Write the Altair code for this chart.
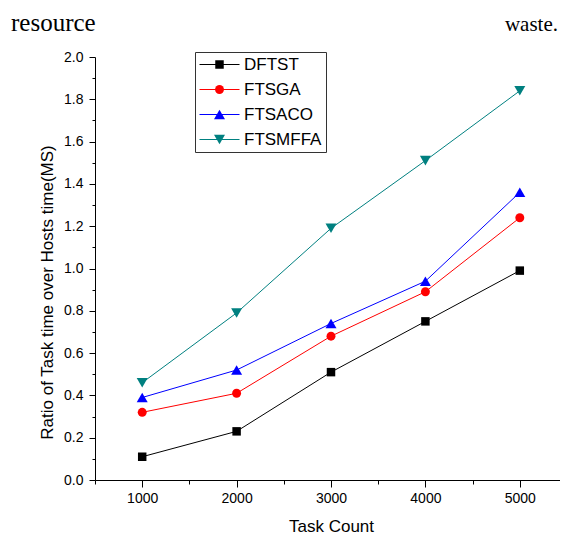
import altair as alt
import pandas as pd

# ---- data ----
task_counts = [1000, 2000, 3000, 4000, 5000]
series_names = ["DFTST", "FTSGA", "FTSACO", "FTSMFFA"]
dftst = [0.11, 0.23, 0.51, 0.75, 0.99]
ftsga = [0.32, 0.41, 0.68, 0.89, 1.24]
ftsaco = [0.39, 0.52, 0.74, 0.94, 1.36]
ftsmffa = [0.46, 0.79, 1.19, 1.51, 1.84]
series_colors = ["#000000", "#ff0000", "#0000ff", "#008080"]
series_shapes = ["square", "circle", "triangle-up", "triangle-down"]
marker_sizes = [72, 80, 121, 121]
x_tick_values = [500, 1000, 1500, 2000, 2500, 3000, 3500, 4000, 4500, 5000, 5500]
y_tick_values = [0.0, 0.1, 0.2, 0.3, 0.4, 0.5, 0.6, 0.7, 0.8, 0.9, 1.0,
                 1.1, 1.2, 1.3, 1.4, 1.5, 1.6, 1.7, 1.8, 1.9, 2.0]
x_title = "Task Count"
y_title = "Ratio of Task time over Hosts time(MS)"
header_left = ["resource"]
header_right = ["waste."]

rows = []
for name, vals in zip(series_names, [dftst, ftsga, ftsaco, ftsmffa]):
    for t, v in zip(task_counts, vals):
        rows.append({"series": name, "tasks": t, "ratio": v})
df = pd.DataFrame(rows)

FONT = "Liberation Sans"

x_enc = alt.X(
    "tasks:Q",
    title=x_title,
    scale=alt.Scale(domain=[500, 5500], nice=False, zero=False),
    axis=alt.Axis(
        values=x_tick_values,
        format="d",
        labelExpr="datum.value % 1000 === 0 && datum.value <= 5000 ? datum.label : ''",
        tickSize={"condition": {"test": "datum.value % 1000 === 0", "value": 7}, "value": 4},
        labelPadding=4,
        labelFontSize=14,
        titleFontSize=17,
        titleX=236,
        titleY=51,
        titleBaseline="alphabetic",
        labelOverlap=False,
        labelFlush=False,
        grid=False,
    ),
)

y_enc = alt.Y(
    "ratio:Q",
    title=y_title,
    scale=alt.Scale(domain=[0, 2], nice=False, zero=True),
    axis=alt.Axis(
        values=y_tick_values,
        labelExpr="round(datum.value * 10) % 2 === 0 ? format(datum.value, '.1f') : ''",
        tickSize={"condition": {"test": "round(datum.value * 10) % 2 === 0", "value": 6}, "value": 3},
        labelPadding=6,
        labelFontSize=14,
        titleFontSize=17,
        titleX=-48,
        titleY=235,
        titleAngle=270,
        titleBaseline="middle",
        titleAlign="center",
        labelOverlap=False,
        labelFlush=False,
        grid=False,
    ),
)

legend_common = dict(
    orient="none",
    legendX=100,
    legendY=-5,
    title=None,
    labelFont=FONT,
    labelFontSize=17,
    labelColor="black",
    labelOffset=16,
    labelLimit=300,
    padding=4,
    rowPadding=7,
    symbolOffset=12,
)

# legend of the connecting lines (carries the labels and the box)
legend_lines = alt.Legend(
    values=series_names,
    symbolType="M-4,0H4",
    symbolSize=100,
    symbolStrokeWidth=1,
    strokeColor="#333333",
    **legend_common,
)

# legend of the markers, drawn on top of the line legend
legend_points = alt.Legend(
    symbolStrokeWidth=0,
    labelExpr="''",
    **legend_common,
)

lines = alt.Chart(df).mark_line(strokeWidth=1).encode(
    x=x_enc,
    y=y_enc,
    stroke=alt.Stroke(
        "series:N",
        scale=alt.Scale(domain=series_names[::-1], range=series_colors[::-1]),
        legend=legend_lines,
    ),
)

points = alt.Chart(df).mark_point(filled=True, opacity=1).encode(
    x=x_enc,
    y=y_enc,
    fill=alt.Fill("series:N",
                  scale=alt.Scale(domain=series_names, range=series_colors),
                  legend=legend_points),
    shape=alt.Shape("series:N",
                    scale=alt.Scale(domain=series_names, range=series_shapes),
                    legend=legend_points),
    size=alt.Size("series:N",
                  scale=alt.Scale(type="ordinal", domain=series_names, range=marker_sizes),
                  legend=legend_points),
)

head_l = alt.Chart(pd.DataFrame({"t": header_left})).mark_text(
    align="left", baseline="alphabetic", font="Liberation Serif", fontSize=25, color="black"
).encode(text="t:N", x=alt.value(-84), y=alt.value(-26))

head_r = alt.Chart(pd.DataFrame({"t": header_right})).mark_text(
    align="right", baseline="alphabetic", font="Liberation Serif", fontSize=21, color="black"
).encode(text="t:N", x=alt.value(463), y=alt.value(-26))

chart = alt.layer(lines, points, head_l, head_r).properties(
    width=472,
    height=423,
    padding={"left": 3, "top": 3, "right": -8, "bottom": 1},
).configure_view(stroke=None).configure_axis(
    domainColor="black",
    tickColor="black",
    labelColor="black",
    titleColor="black",
    labelFont=FONT,
    titleFont=FONT,
    titleFontWeight="normal",
    domainWidth=1,
    tickWidth=1,
)

chart.save("out.html", embed_options={"renderer": "svg", "actions": False})
